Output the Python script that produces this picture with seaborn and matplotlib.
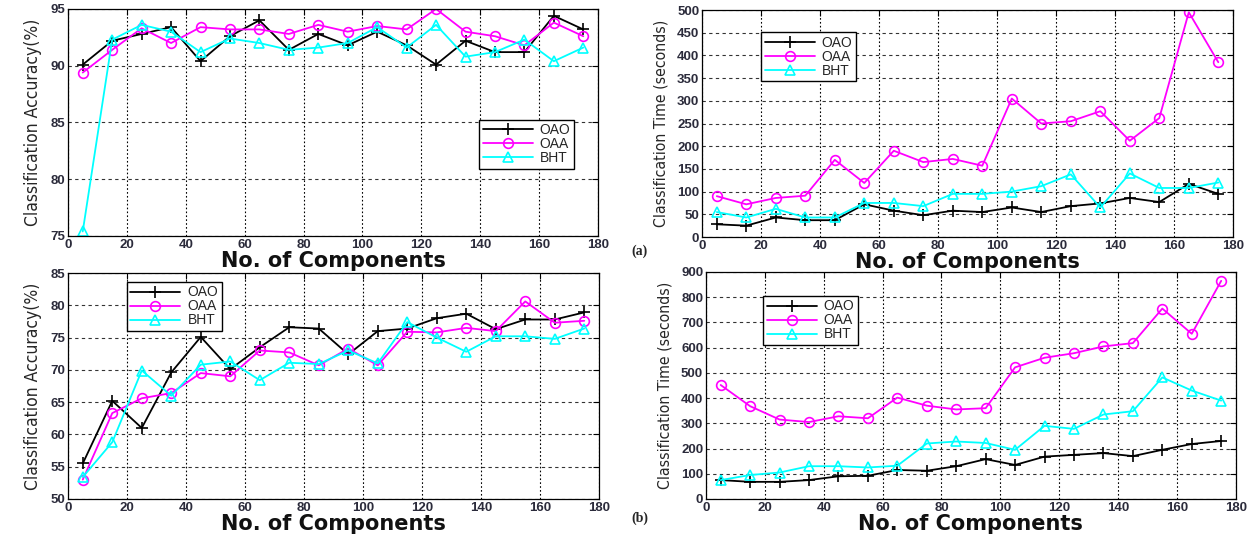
import os
import matplotlib
matplotlib.use("Agg")
import matplotlib.pyplot as plt
from matplotlib import font_manager
from matplotlib.font_manager import FontProperties
import seaborn as sns
import pandas as pd

# number of components on the x axis
components = list(range(5, 180, 10))
methods = ["OAO", "OAA", "BHT"]

# (a) accuracy and time
acc_a_oao = [90.1, 92.2, 92.8, 93.4, 90.4, 92.6, 94.0, 91.4, 92.8, 91.8, 93.0, 91.8, 90.1, 92.2, 91.2, 91.2, 94.4, 93.2]
acc_a_oaa = [89.4, 91.4, 93.3, 92.0, 93.4, 93.2, 93.2, 92.8, 93.6, 93.0, 93.5, 93.2, 95.0, 93.0, 92.6, 91.8, 93.8, 92.6]
acc_a_bht = [75.4, 92.3, 93.6, 93.0, 91.2, 92.4, 92.0, 91.4, 91.6, 92.0, 93.4, 91.6, 93.6, 90.8, 91.2, 92.3, 90.4, 91.6]

time_a_oao = [28, 25, 43, 37, 37, 72, 58, 48, 58, 55, 65, 55, 68, 74, 86, 77, 117, 95]
time_a_oaa = [90, 72, 86, 91, 170, 119, 190, 165, 172, 157, 305, 250, 255, 277, 212, 262, 495, 385]
time_a_bht = [55, 43, 62, 43, 43, 75, 75, 68, 95, 95, 100, 112, 138, 65, 140, 108, 108, 120]

# (b) accuracy and time
acc_b_oao = [55.5, 65.2, 61.0, 69.6, 75.1, 70.1, 73.5, 76.6, 76.4, 72.4, 76.0, 76.4, 78.0, 78.7, 76.3, 77.8, 77.8, 78.9]
acc_b_oaa = [53.0, 63.3, 65.6, 66.4, 69.5, 69.0, 73.0, 72.7, 70.7, 73.3, 70.7, 75.9, 75.8, 76.5, 76.0, 80.6, 77.3, 77.6]
acc_b_bht = [53.4, 58.8, 69.9, 66.0, 70.8, 71.3, 68.4, 71.1, 70.9, 73.0, 71.0, 77.4, 75.0, 72.8, 75.2, 75.2, 74.8, 76.4]

time_b_oao = [75, 68, 68, 75, 90, 92, 115, 112, 130, 158, 135, 168, 175, 182, 170, 195, 218, 230]
time_b_oaa = [452, 368, 315, 305, 328, 320, 402, 370, 355, 360, 522, 560, 578, 605, 618, 755, 655, 865]
time_b_bht = [75, 95, 105, 130, 130, 125, 132, 220, 228, 222, 195, 290, 278, 335, 348, 482, 430, 390]

colors = {"OAO": "black", "OAA": "#ff00ff", "BHT": "#00ffff"}
markers = {"OAO": "+", "OAA": "o", "BHT": "^"}

sns.set_style("white")
plt.rcParams["font.family"] = ["Liberation Sans", "DejaVu Sans"]


# a narrow font for the y labels if one is installed
def find_narrow():
    bad = ("bold", "italic", "oblique", "light", "thin", "black", "medium", "semi", "extra")
    for f in font_manager.fontManager.ttflist:
        base = os.path.basename(f.fname).lower()
        if ("narrow" in base or "condensed" in base) and not any(b in base for b in bad):
            return FontProperties(fname=f.fname)
    return FontProperties(family=["Liberation Sans", "DejaVu Sans"])


ylab_font = find_narrow()

fig = plt.figure(figsize=(12.55, 5.35), dpi=100)

panels = [
    # axes rect, series, ylabel, ylim, ystep, legend anchor
    ([0.0542, 0.5589, 0.4223, 0.4243], [acc_a_oao, acc_a_oaa, acc_a_bht],
     "Classification Accuracy(%)", (75, 95), 5, (0.3817, 0.776)),
    ([0.5594, 0.5570, 0.4231, 0.4243], [time_a_oao, time_a_oaa, time_a_bht],
     "Classification Time (seconds)", (0, 500), 50, (0.6064, 0.940)),
    ([0.0542, 0.0673, 0.4231, 0.4224], [acc_b_oao, acc_b_oaa, acc_b_bht],
     "Classification Accuracy(%)", (50, 85), 5, (0.1012, 0.4729)),
    ([0.5625, 0.0673, 0.4223, 0.4243], [time_b_oao, time_b_oaa, time_b_bht],
     "Classification Time (seconds)", (0, 900), 100, (0.608, 0.4467)),
]

axes = []
for rect, series, ylabel, ylim, ystep, anchor in panels:
    ax = fig.add_axes(rect)
    df = pd.DataFrame({"components": components * 3,
                       "value": series[0] + series[1] + series[2],
                       "method": sum([[m] * len(components) for m in methods], [])})
    for m in methods:
        c = colors[m]
        sns.lineplot(data=df[df["method"] == m], x="components", y="value",
                     color=c, marker=markers[m], markersize=7 if m != "OAO" else 8,
                     markeredgecolor=c, markerfacecolor="none", markeredgewidth=1.2,
                     linewidth=1.3, label=m, ax=ax)
    ax.set_xlim(0, 180)
    ax.set_ylim(*ylim)
    ax.set_xticks(range(0, 181, 20))
    ax.set_yticks(range(ylim[0], ylim[1] + 1, ystep))
    ax.xaxis.grid(True, color="black", linestyle=(0, (1.5, 2)), linewidth=0.8)
    ax.yaxis.grid(True, color="black", linestyle=(0, (3, 3)), linewidth=0.8, alpha=0.8)
    for s in ax.spines.values():
        s.set_color("black")
        s.set_linewidth(0.9)
    ax.tick_params(direction="in", length=4, top=True, right=True, labelsize=9.5,
                   colors="black", labelcolor="#2b2b3b", pad=2)
    for lbl in ax.get_xticklabels() + ax.get_yticklabels():
        lbl.set_fontweight("bold")
    ax.set_xlabel("No. of Components", fontsize=15, fontweight="bold",
                  family=["DejaVu Sans"], color="#111111", labelpad=0)
    ax.set_ylabel(ylabel, fontproperties=ylab_font, labelpad=6)
    ax.yaxis.label.set_fontsize(14)
    ax.legend(loc="upper left", bbox_to_anchor=anchor, bbox_transform=fig.transFigure,
              borderaxespad=0, fancybox=False, edgecolor="black", framealpha=1,
              fontsize=10, handlelength=3.6, handletextpad=0.5, labelspacing=0.0,
              borderpad=0.25)
    axes.append(ax)

# scale the y labels to the lengths seen in the reference
renderer = fig.canvas.get_renderer()
for ax in axes:
    yl = ax.yaxis.label
    h = yl.get_window_extent(renderer).height
    yl.set_fontsize(yl.get_fontsize() * 208 / h)

fig.text(0.5096, 1 - 251 / 535, "(a)", fontsize=10, fontweight="bold",
         family=["Liberation Serif", "DejaVu Serif"], ha="center", va="center")
fig.text(0.5096, 1 - 518 / 535, "(b)", fontsize=10, fontweight="bold",
         family=["Liberation Serif", "DejaVu Serif"], ha="center", va="center")

fig.savefig("out.png", dpi=100)
